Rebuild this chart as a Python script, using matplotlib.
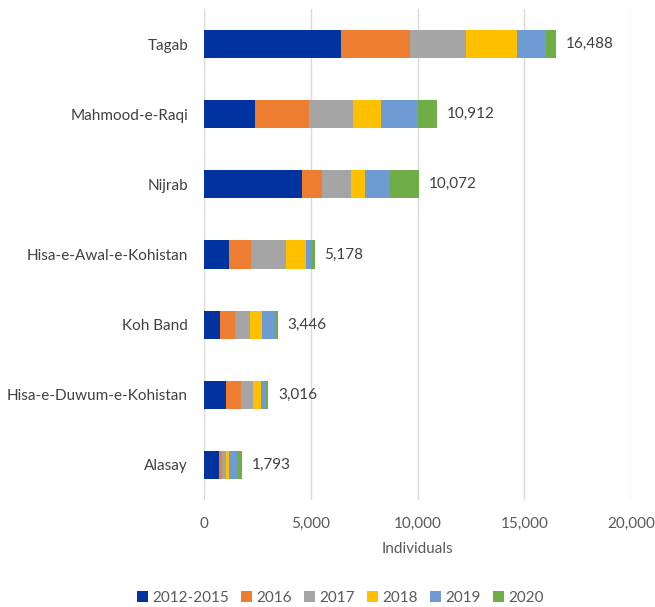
import matplotlib
matplotlib.use("Agg")
import matplotlib.pyplot as plt
import numpy as np

districts = ["Tagab", "Mahmood-e-Raqi", "Nijrab", "Hisa-e-Awal-e-Kohistan",
             "Koh Band", "Hisa-e-Duwum-e-Kohistan", "Alasay"]
years = ["2012-2015", "2016", "2017", "2018", "2019", "2020"]
v2012_2015 = [6400, 2406, 4594, 1156, 750, 1031, 703]
v2016 = [3250, 2516, 937, 1047, 703, 719, 141]
v2017 = [2630, 2062, 1360, 1656, 719, 563, 172]
v2018 = [2370, 1313, 640, 907, 547, 375, 140]
v2019 = [1350, 1703, 1203, 234, 609, 203, 407]
v2020 = [488, 912, 1338, 178, 118, 125, 230]
totals = [16488, 10912, 10072, 5178, 3446, 3016, 1793]
xticks = [0, 5000, 10000, 15000, 20000]

colors = ["#0033A0", "#ED7D31", "#A5A5A5", "#FFC000", "#6F9BD5", "#70AD47"]
series = [v2012_2015, v2016, v2017, v2018, v2019, v2020]

plt.rcParams['font.family'] = ['Lato', 'DejaVu Sans']
txt = "#595959"
fs = 11

fig = plt.figure(figsize=(6.55, 6.07), dpi=100)
ax = fig.add_axes([204/655, 1-500/607, 427/655, 491/607])

y = np.arange(len(districts))
left = np.zeros(len(districts))
for name, vals, c in zip(years, series, colors):
    ax.barh(y, vals, left=left, height=0.4, color=c, label=name, zorder=3)
    left += np.array(vals)

for yi, t in zip(y, totals):
    ax.text(t + 450, yi, f"{t:,}", va="center", ha="left", fontsize=fs, color="#404040")

ax.set_ylim(len(districts) - 0.5, -0.5)
ax.set_xlim(0, 20000)
ax.set_yticks(y)
ax.set_yticklabels(districts, fontsize=fs, color="#404040")
ax.set_xticks(xticks)
ax.set_xticklabels([f"{v:,}" for v in xticks], fontsize=fs, color=txt)
ax.tick_params(length=0)
ax.tick_params(axis='y', pad=11.5)
ax.tick_params(axis='x', pad=12)
ax.grid(axis='x', color="#D9D9D9", linewidth=1, zorder=0)
for s in ax.spines.values():
    s.set_visible(False)
ax.set_xlabel("Individuals", fontsize=fs, color=txt, labelpad=8)

handles, labels = ax.get_legend_handles_labels()
fig.legend(handles, labels, loc="center", bbox_to_anchor=(0.52, 1-598/607), ncol=6,
           frameon=False, fontsize=fs, handlelength=0.7, handleheight=0.7,
           handletextpad=0.3, columnspacing=0.8, labelcolor=txt)

fig.savefig("out.png", dpi=100)
